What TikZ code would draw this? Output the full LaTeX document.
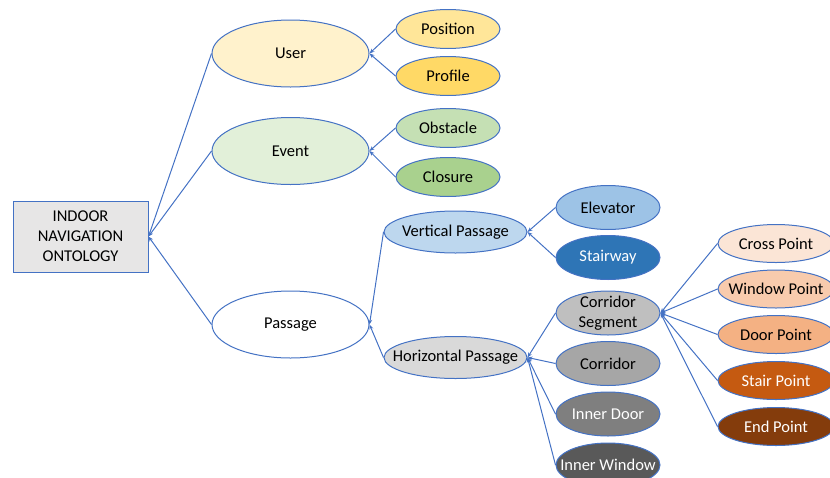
\documentclass[tikz,border=0pt]{standalone}
\usepackage{fontspec}
\setmainfont{Carlito}
\usetikzlibrary{shapes.geometric,arrows.meta}

\definecolor{enlaceazul}{HTML}{4472C4}
\definecolor{raizgris}{HTML}{E7E6E6}
\definecolor{userfill}{HTML}{FFF2CC}
\definecolor{eventfill}{HTML}{E2F0D9}
\definecolor{positionfill}{HTML}{FFE699}
\definecolor{profilefill}{HTML}{FFD966}
\definecolor{obstaclefill}{HTML}{C5E0B4}
\definecolor{closurefill}{HTML}{A9D18E}
\definecolor{verticalfill}{HTML}{BDD7EE}
\definecolor{horizontalfill}{HTML}{D9D9D9}
\definecolor{elevatorfill}{HTML}{9DC3E6}
\definecolor{stairwayfill}{HTML}{2E75B6}
\definecolor{segmentfill}{HTML}{BFBFBF}
\definecolor{corridorfill}{HTML}{A6A6A6}
\definecolor{innerdoorfill}{HTML}{7F7F7F}
\definecolor{innerwindowfill}{HTML}{595959}
\definecolor{crossfill}{HTML}{FBE5D6}
\definecolor{windowfill}{HTML}{F8CBAD}
\definecolor{doorfill}{HTML}{F4B183}
\definecolor{stairfill}{HTML}{C55A11}
\definecolor{endfill}{HTML}{843C0C}

\tikzset{
  elipse/.style={ellipse,draw=enlaceazul,line width=1pt,inner sep=0pt},
  grande/.style={elipse,minimum width=157pt,minimum height=67pt},
  media/.style={elipse,minimum width=143pt,minimum height=42pt},
  chica/.style={elipse,minimum width=104pt,minimum height=39pt},
  hoja/.style={elipse,minimum width=104pt,minimum height=44pt},
  punto/.style={elipse,minimum width=116pt,minimum height=38pt},
  enlace/.style={draw=enlaceazul,line width=1pt,-{Stealth[length=5pt,width=4pt]}}
}

\begin{document}
\begin{tikzpicture}[x=1pt,y=-1pt,font=\fontsize{16.5}{20}\selectfont]
    \useasboundingbox (0,0) rectangle (830,477);
    \clip (0,0) rectangle (830,477);

    % Raiz
    \node[draw=enlaceazul,line width=1pt,fill=raizgris,minimum width=135pt,minimum height=71pt,align=center,inner sep=0pt] (raiz) at (80.5,236.5) {INDOOR\\NAVIGATION\\ONTOLOGY};

    % Nivel 1
    \node[grande,fill=userfill,label={center:User}] (user) at (290.5,53.5) {};
    \node[grande,fill=eventfill,label={center:Event}] (event) at (290.5,151) {};
    \node[grande,fill=white,label={center:Passage}] (passage) at (290.5,324.5) {};

    % Nivel 2
    \node[chica,fill=positionfill,label={center:Position}] (position) at (448,29) {};
    \node[chica,fill=profilefill,label={center:Profile}] (profile) at (448,76) {};
    \node[chica,fill=obstaclefill,label={center:Obstacle}] (obstacle) at (448,128) {};
    \node[chica,fill=closurefill,label={center:Closure}] (closure) at (448,177) {};
    \node[media,fill=verticalfill,label={center:Vertical Passage}] (vertical) at (455.5,232) {};
    \node[media,fill=horizontalfill,label={center:Horizontal Passage}] (horizontal) at (455.5,357.5) {};

    % Nivel 3
    \node[hoja,fill=elevatorfill,label={center:Elevator}] (elevator) at (608,207.5) {};
    \node[hoja,fill=stairwayfill,label={[text=white]center:Stairway}] (stairway) at (608,257.5) {};
    \node[hoja,fill=segmentfill,label={[align=center]center:{Corridor\\Segment}}] (segment) at (608,313) {};
    \node[hoja,fill=corridorfill,label={center:Corridor}] (corridor) at (608,363.5) {};
    \node[hoja,fill=innerdoorfill,label={[text=white]center:Inner Door}] (innerdoor) at (608,414) {};
    \node[hoja,fill=innerwindowfill,label={[text=white]center:Inner Window}] (innerwindow) at (608,465) {};

    % Nivel 4
    \node[punto,fill=crossfill,label={center:Cross Point}] (cross) at (776,243.5) {};
    \node[punto,fill=windowfill,label={center:Window Point}] (window) at (776,289) {};
    \node[punto,fill=doorfill,label={center:Door Point}] (door) at (776,334.5) {};
    \node[punto,fill=stairfill,label={[text=white]center:Stair Point}] (stair) at (776,380.5) {};
    \node[punto,fill=endfill,label={[text=white]center:End Point}] (endp) at (776,426.5) {};

    % Enlaces
    \draw[enlace] (user.west) -- (raiz.east);
    \draw[enlace] (event.west) -- (raiz.east);
    \draw[enlace] (passage.west) -- (raiz.east);
    \draw[enlace] (position.west) -- (user.east);
    \draw[enlace] (profile.west) -- (user.east);
    \draw[enlace] (obstacle.west) -- (event.east);
    \draw[enlace] (closure.west) -- (event.east);
    \draw[enlace] (vertical.west) -- (passage.east);
    \draw[enlace] (horizontal.west) -- (passage.east);
    \draw[enlace] (elevator.west) -- (vertical.east);
    \draw[enlace] (stairway.west) -- (vertical.east);
    \draw[enlace] (segment.west) -- (horizontal.east);
    \draw[enlace] (corridor.west) -- (horizontal.east);
    \draw[enlace] (innerdoor.west) -- (horizontal.east);
    \draw[enlace] (innerwindow.west) -- (horizontal.east);
    \draw[enlace] (cross.west) -- (segment.east);
    \draw[enlace] (window.west) -- (segment.east);
    \draw[enlace] (door.west) -- (segment.east);
    \draw[enlace] (stair.west) -- (segment.east);
    \draw[enlace] (endp.west) -- (segment.east);
\end{tikzpicture}
\end{document}
